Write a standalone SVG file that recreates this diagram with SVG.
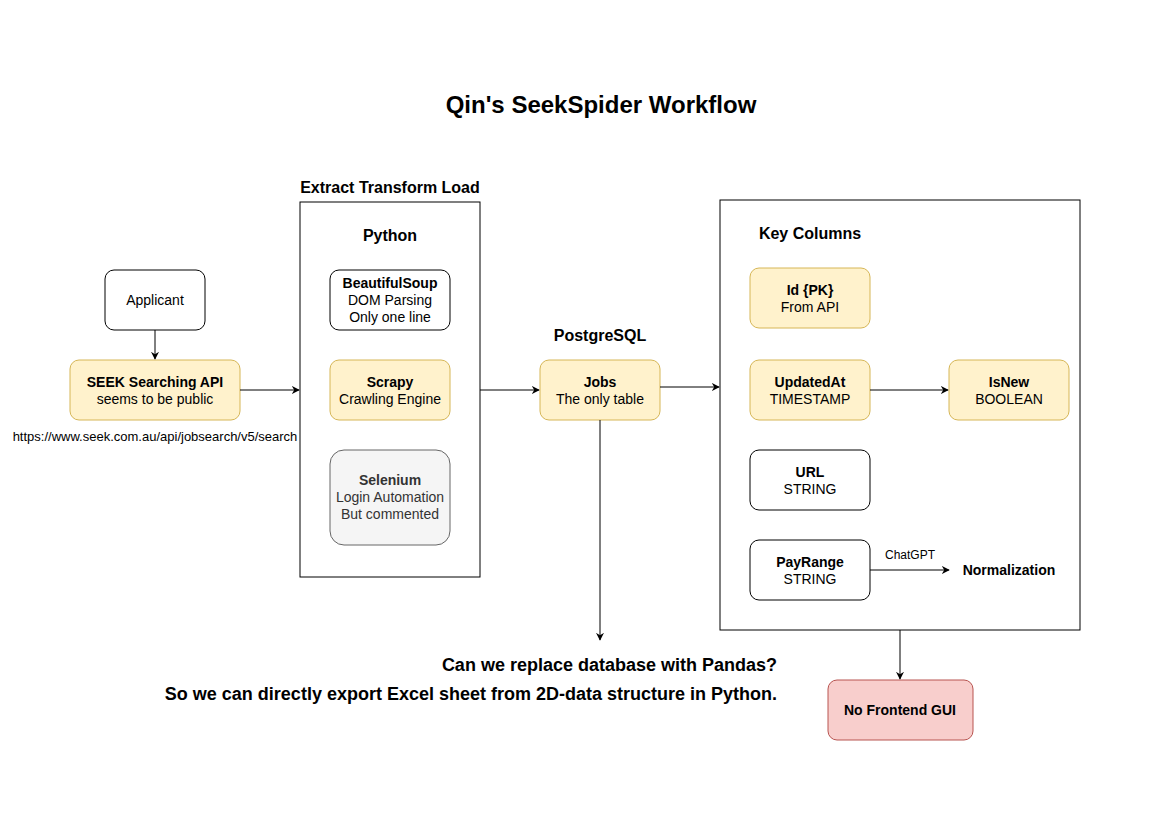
<svg xmlns="http://www.w3.org/2000/svg" width="1169" height="827" viewBox="0 0 1169 827">
<defs>
<style>
text{font-family:"Liberation Sans",Arial,sans-serif;fill:#000;text-anchor:middle}
.b{font-weight:bold}
.n{font-size:14px}
.h{font-size:16px;font-weight:bold}
.q{font-size:18px;font-weight:bold;text-anchor:end}
.plain{fill:#fff;stroke:#000;stroke-width:1}
.yel{fill:#fff2cc;stroke:#d6b656;stroke-width:1}
.gry{fill:#f5f5f5;stroke:#666;stroke-width:1}
.red{fill:#f8cecc;stroke:#b85450;stroke-width:1}
.c{fill:none;stroke:#000;stroke-width:1}
</style>
<marker id="ah" viewBox="0 0 10 10" refX="9" refY="5" markerWidth="8" markerHeight="8" markerUnits="userSpaceOnUse" orient="auto">
<path d="M0,0 L10,5 L0,10 L3,5 Z" fill="#000"/>
</marker>
</defs>
<rect width="1169" height="827" fill="#fff"/>
<text id="title" x="601" y="113" class="b" style="font-size:24px">Qin's SeekSpider Workflow</text>

<g id="etl">
<rect x="300" y="202" width="180" height="375" class="plain"/>
<text x="390" y="193" class="h">Extract Transform Load</text>
<text x="390" y="241" class="h">Python</text>
</g>
<g id="keycols">
<rect x="720" y="200" width="360" height="430" class="plain"/>
<text x="810" y="239" class="h">Key Columns</text>
</g>
<text id="pg" x="600" y="341" class="h">PostgreSQL</text>

<g id="applicant">
<rect x="105" y="270" width="100" height="60" rx="9" class="plain"/>
<text x="155" y="305" class="n">Applicant</text>
</g>
<g id="seekapi">
<rect x="70" y="360" width="170" height="60" rx="9" class="yel"/>
<text x="155" y="387" class="n b">SEEK Searching API</text>
<text x="155" y="404" class="n">seems to be public</text>
<text x="155" y="441" style="font-size:13px">https://www.seek.com.au/api/jobsearch/v5/search</text>
</g>
<g id="bs">
<rect x="330" y="270" width="120" height="60" rx="9" class="plain"/>
<text x="390" y="288" class="n b">BeautifulSoup</text>
<text x="390" y="305" class="n">DOM Parsing</text>
<text x="390" y="322" class="n">Only one line</text>
</g>
<g id="scrapy">
<rect x="330" y="360" width="120" height="60" rx="9" class="yel"/>
<text x="390" y="387" class="n b">Scrapy</text>
<text x="390" y="404" class="n">Crawling Engine</text>
</g>
<g id="selenium">
<rect x="330" y="450" width="120" height="95" rx="14" class="gry"/>
<text x="390" y="485" class="n b" style="fill:#333">Selenium</text>
<text x="390" y="502" class="n" style="fill:#333">Login Automation</text>
<text x="390" y="519" class="n" style="fill:#333">But commented</text>
</g>
<g id="jobs">
<rect x="540" y="360" width="120" height="60" rx="9" class="yel"/>
<text x="600" y="387" class="n b">Jobs</text>
<text x="600" y="404" class="n">The only table</text>
</g>
<g id="id">
<rect x="750" y="268" width="120" height="60" rx="9" class="yel"/>
<text x="810" y="295" class="n b">Id {PK}</text>
<text x="810" y="312" class="n">From API</text>
</g>
<g id="updated">
<rect x="750" y="360" width="120" height="60" rx="9" class="yel"/>
<text x="810" y="387" class="n b">UpdatedAt</text>
<text x="810" y="404" class="n">TIMESTAMP</text>
</g>
<g id="isnew">
<rect x="949" y="360" width="120" height="60" rx="9" class="yel"/>
<text x="1009" y="387" class="n b">IsNew</text>
<text x="1009" y="404" class="n">BOOLEAN</text>
</g>
<g id="url">
<rect x="750" y="450" width="120" height="60" rx="9" class="plain"/>
<text x="810" y="477" class="n b">URL</text>
<text x="810" y="494" class="n">STRING</text>
</g>
<g id="payrange">
<rect x="750" y="540" width="120" height="60" rx="9" class="plain"/>
<text x="810" y="567" class="n b">PayRange</text>
<text x="810" y="584" class="n">STRING</text>
</g>
<text id="norm" x="1009" y="575" class="n b">Normalization</text>
<g id="nogui">
<rect x="828" y="680" width="145" height="60" rx="9" class="red"/>
<text x="900" y="715" class="n b">No Frontend GUI</text>
</g>
<g id="question">
<text x="777" y="671" class="q">Can we replace database with Pandas?</text>
<text x="777" y="700" class="q">So we can directly export Excel sheet from 2D-data structure in Python.</text>
</g>

<g id="connectors">
<path d="M155,330 V359" class="c" marker-end="url(#ah)"/>
<path d="M240,390 H299" class="c" marker-end="url(#ah)"/>
<path d="M480,390 H539" class="c" marker-end="url(#ah)"/>
<path d="M660,387 H719" class="c" marker-end="url(#ah)"/>
<path d="M600,420 V640" class="c" marker-end="url(#ah)"/>
<path d="M870,390 H948" class="c" marker-end="url(#ah)"/>
<path d="M870,570 H949" class="c" marker-end="url(#ah)"/>
<text x="910" y="559" style="font-size:12px">ChatGPT</text>
<path d="M900,630 V679" class="c" marker-end="url(#ah)"/>
</g>
</svg>
